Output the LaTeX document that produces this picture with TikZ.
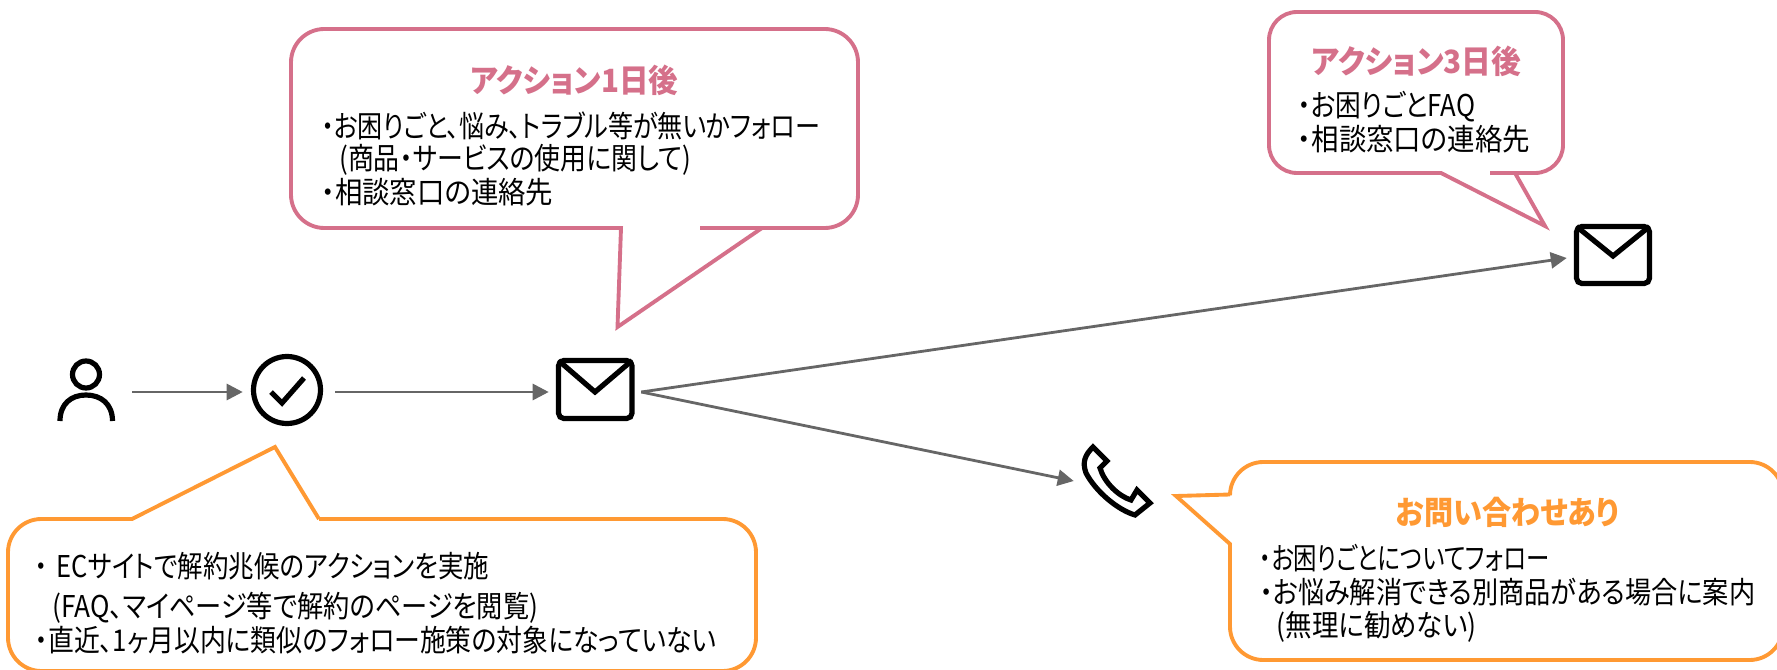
\documentclass[tikz,border=0pt]{standalone}
\usepackage{graphicx}
\usepackage{fontspec}
\setmainfont[RawFeature={+palt}]{Noto Sans CJK JP}
\usetikzlibrary{arrows.meta}
\definecolor{pinkc}{HTML}{D5708A}
\definecolor{orangec}{HTML}{FF9933}
\definecolor{arrowc}{HTML}{666666}
\tikzset{
  bubble/.style={line width=2.9pt,line join=miter,fill=white},
  flow/.style={draw=arrowc,line width=2.1pt,-{Triangle[length=12pt,width=12pt]}},
  icon/.style={draw=black,line width=3.9pt},
  slot/.style={inner sep=0pt,minimum width=69pt,minimum height=30pt},
  line/.style={inner sep=0pt,anchor=base west,font=\fontsize{22.5pt}{24pt}\selectfont},
  head/.style={inner sep=0pt,anchor=base west,font=\fontsize{24pt}{26pt}\selectfont\bfseries}
}
% name, x, centre y, width, text
\newcommand{\tline}[5]{\node[line] (#1) at (#2,#3+11) {\resizebox{\dimexpr#4pt*3/4\relax}{\height}{#5}};}
\newcommand{\thead}[6]{\node[head,text=#6] (#1) at (#2,#3+11.5) {\resizebox{\dimexpr#4pt*3/4\relax}{\height}{#5}};}
\begin{document}
\begin{tikzpicture}[x=0.75pt,y=-0.75pt]
\useasboundingbox (0,0) rectangle (1777,670);
\clip (0,0) rectangle (1777,670);

% speech bubbles
\draw[bubble,draw=pinkc] (700,228) [rounded corners=25pt] -- (858,228) -- (858,29) -- (291,29) -- (291,228) -- (400,228) [sharp corners] -- (621,228) -- (617.5,327) -- (762,228) -- cycle;
\draw[bubble,draw=pinkc] (1490,173) -- (1515,173) [rounded corners=21pt] -- (1563,173) -- (1563,12) -- (1269,12) -- (1269,173) -- (1380,173) [sharp corners] -- (1441,173) -- (1545,226) -- (1515,173);
\draw[bubble,draw=orangec] (500,519) -- (319,519) [rounded corners=25pt] -- (756,519) -- (756,671) -- (8,671) -- (8,519) -- (90,519) [sharp corners] -- (132,519) -- (275,447) -- (319,519);
\draw[bubble,draw=orangec] (1230,600) -- (1230,544) -- (1176,496) -- (1230,494.5) [rounded corners=25pt] -- (1230,462) -- (1783,462) -- (1783,660) -- (1230,660) -- (1230,600);

% bubble texts
\thead{t1h}{470}{81}{208}{アクション1日後}{pinkc}
\tline{t1a}{321}{127}{499}{・お困りごと、悩み、トラブル等が無いかフォロー}
\tline{t1b}{339}{159}{352}{(商品・サービスの使用に関して)}
\tline{t1c}{321}{193}{232}{・相談窓口の連絡先}

\thead{t2h}{1311.5}{62}{209.5}{アクション3日後}{pinkc}
\tline{t2a}{1297.5}{106}{177.5}{・お困りごとFAQ}
\tline{t2b}{1297.5}{140}{232.5}{・相談窓口の連絡先}

\tline{t3a}{35}{566}{454}{・\hspace{0.35em}ECサイトで解約兆候のアクションを実施}
\tline{t3b}{52}{606}{486}{(FAQ、マイページ等で解約のページを閲覧)}
\tline{t3c}{35}{640}{681}{・直近、1ヶ月以内に類似のフォロー施策の対象になっていない}

\thead{t4h}{1396}{513}{223}{お問い合わせあり}{orangec}
\tline{t4a}{1259.5}{558}{289.5}{・お困りごとについてフォロー}
\tline{t4b}{1259.5}{592}{495.5}{・お悩み解消できる別商品がある場合に案内}
\tline{t4c}{1276.5}{625}{200}{(無理に勧めない)}

% icon anchors (invisible slots that connectors attach to)
\node[slot] (user) at (86,392) {};
\node[slot] (check) at (289,392) {};
\node[slot] (mail1) at (595,392) {};
\node[slot] (mail2) at (1613,258) {};
\node[slot] (phone) at (1120,481) {};

% user icon
\draw[icon] (86,374.5) circle (13.5);
\draw[icon] (60,421) .. controls (60,404) and (71,395) .. (86,395) .. controls (101,395) and (112.5,404) .. (112.5,421);

% check icon
\draw[icon] (287,390) circle (33.5);
\draw[icon] (271,392) -- (282,403) -- (304,378);

% mail icons
\draw[icon,rounded corners=4pt] (558.5,360.5) rectangle (632,418.5);
\draw[icon] (558.5,360.5) -- (595,392) -- (632,360.5);
\draw[icon,rounded corners=4pt] (1576.5,226.5) rectangle (1649.5,283.5);
\draw[icon] (1576.5,226.5) -- (1613,256) -- (1649.5,226.5);

% phone icon
\draw[icon,line join=miter] (1093,447) -- (1107,461) -- (1100,468) .. controls (1104,482) and (1118,496) .. (1131,500) -- (1137,490) -- (1150,503) -- (1135,515) .. controls (1118,510) and (1096,492) .. (1086,473) .. controls (1082,462) and (1085,455) .. (1093,447) -- cycle;

% connectors
\draw[flow] (user.east) -- (check.west);
\draw[flow] (check.east) -- (mail1.west);
\draw[flow] (mail1.east) -- (mail2.west);
\draw[flow] (mail1.east) -- (phone.west);
\end{tikzpicture}
\end{document}
